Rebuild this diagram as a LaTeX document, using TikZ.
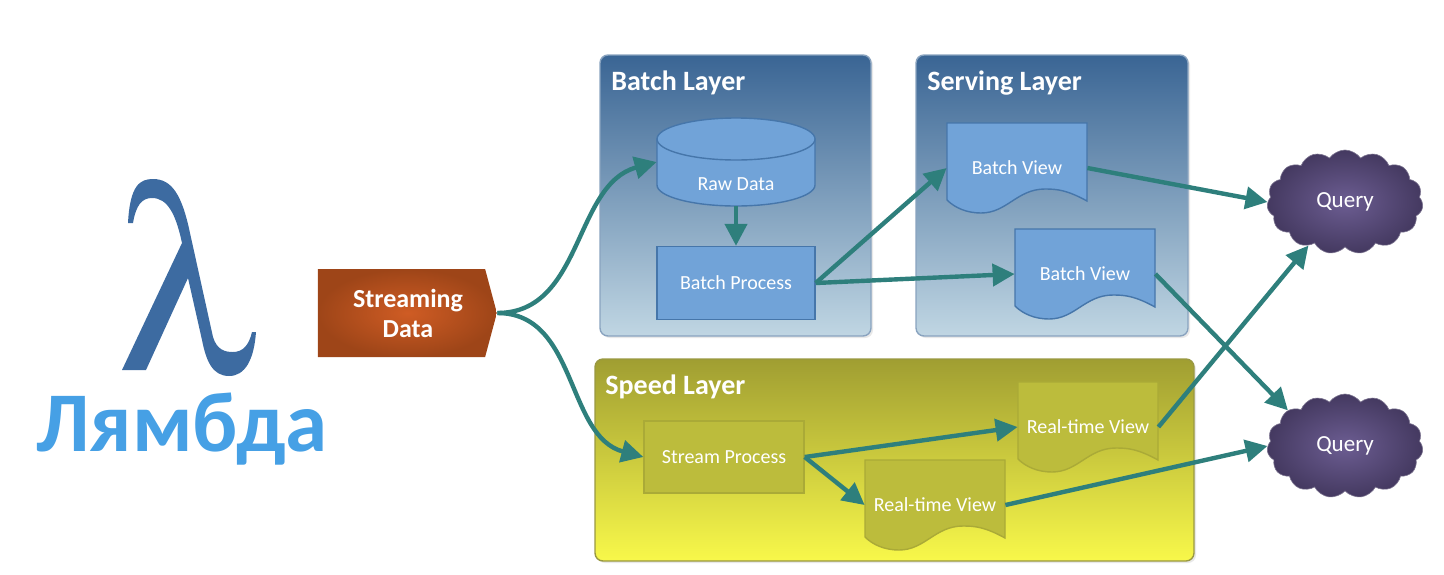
\documentclass[tikz,border=0pt]{standalone}
\usepackage{fontspec}
\setmainfont{Carlito}
\usetikzlibrary{arrows.meta,shapes.symbols,shadows}
\definecolor{lambdablue}{RGB}{61,107,161}
\definecolor{lambdalight}{RGB}{70,160,229}
\definecolor{flowteal}{RGB}{46,127,124}
\definecolor{batchtop}{RGB}{58,101,148}
\definecolor{batchbottom}{RGB}{192,214,227}
\definecolor{speedtop}{RGB}{160,158,50}
\definecolor{speedbottom}{RGB}{248,248,74}
\definecolor{boxblue}{RGB}{113,163,216}
\definecolor{boxline}{RGB}{70,118,170}
\definecolor{boxolive}{RGB}{188,188,60}
\definecolor{oliveline}{RGB}{170,170,55}
\definecolor{cloudinner}{RGB}{108,93,146}
\definecolor{cloudouter}{RGB}{68,57,96}
\definecolor{streaminner}{RGB}{207,92,36}
\definecolor{streamouter}{RGB}{158,69,24}
\tikzset{
  layerbox/.style={draw=#1, rounded corners=4pt, inner sep=0pt, line width=0.7pt,
    drop shadow={opacity=0.18, shadow xshift=1pt, shadow yshift=-1pt}},
  layertitle/.style={anchor=west, inner sep=0pt, text=white, font=\fontsize{14}{14}\selectfont\bfseries},
  boxtext/.style={text=white, font=\fontsize{10}{10}\selectfont},
  flow/.style={-{Triangle[length=11pt,width=11pt]}, flowteal, line width=2.2pt},
  querycloud/.style={cloud, cloud puffs=15, cloud puff arc=110, cloud ignores aspect,
    minimum width=78pt, minimum height=52pt, inner sep=0pt, draw=white!30!cloudouter,
    line width=0.3pt, inner color=cloudinner, outer color=cloudouter, text=white,
    font=\fontsize{11.5}{11.5}\selectfont}
}
% view sheet with wavy lower edge: name, x, y, text, fill, line
\newcommand{\viewsheet}[6]{
  \draw[fill=#5, draw=#6, line width=0.7pt, shift={(#2,#3)}] (-70,-45) -- (70,-45) -- (70,33)
    .. controls (50,22) and (40,21) .. (28,21)
    .. controls (0,21) and (-10,45) .. (-36,45)
    .. controls (-50,45) and (-62,40) .. (-70,32) -- cycle;
  \node[boxtext, minimum width=70pt, inner sep=0pt] (#1) at (#2,#3) {#4};
}
\begin{document}
\begin{tikzpicture}[x=0.5pt,y=-0.5pt]
  \useasboundingbox (0,0) rectangle (1444,574);

  % Lambda sign
  \fill[lambdablue] (128,223) .. controls (130,185) and (140,179) .. (153,179)
    .. controls (172,179) and (182,195) .. (190,233) -- (213,337)
    .. controls (217,350) and (225,352) .. (233,352)
    .. controls (243,352) and (249,345) .. (252,332) -- (256,332)
    .. controls (254,360) and (245,376) .. (229,376)
    .. controls (212,376) and (206,360) .. (202,340) -- (188,278) -- (146,370) -- (122,370) -- (182,243)
    .. controls (176,215) and (168,198) .. (152,198)
    .. controls (142,198) and (136,205) .. (133,223) -- cycle;
  \node[text=lambdalight, font=\fontsize{42.5}{42.5}\selectfont\bfseries, inner sep=0pt] (lambdaname) at (182,429) {Лямбда};

  % Streaming data
  \node[signal, signal to=east, signal pointer angle=150, minimum width=89.5pt, minimum height=44pt,
    inner sep=0pt, inner color=streaminner, outer color=streamouter] (stream) at (401.5,313) {};
  \node[align=center, inner sep=0pt, text=white, font=\fontsize{13}{15}\selectfont\bfseries] (streamtext) at (408,313) {Streaming\\Data};

  % Layers
  \node[layerbox=batchtop!60!white, top color=batchtop, bottom color=batchbottom, minimum width=135.5pt, minimum height=140.5pt] (batch) at (735.5,195.5) {};
  \node[layertitle] (batchtitle) at (611,83) {Batch Layer};
  \node[layerbox=batchtop!60!white, top color=batchtop, bottom color=batchbottom, minimum width=136pt, minimum height=140.5pt] (serving) at (1052,195.5) {};
  \node[layertitle] (servingtitle) at (927,83) {Serving Layer};
  \node[layerbox=speedtop!80!gray, top color=speedtop, bottom color=speedbottom, minimum width=299.5pt, minimum height=101pt] (speed) at (894.5,460) {};
  \node[layertitle] (speedtitle) at (605,387) {Speed Layer};

  % Batch layer
  \draw[fill=boxblue, draw=boxline, line width=0.7pt] (657,139) -- (657,185)
    arc[start angle=180, end angle=360, x radius=39.5pt, y radius=10.5pt] -- (815,139) -- cycle;
  \draw[fill=boxblue, draw=boxline, line width=0.7pt] (736,139) ellipse [x radius=39.5pt, y radius=10.5pt];
  \node[minimum width=79pt, minimum height=44pt, inner sep=0pt] (raw) at (736,162) {};
  \node[boxtext, inner sep=0pt] (rawtext) at (736,184) {Raw Data};
  \node[draw=boxline, fill=boxblue, line width=0.7pt, minimum width=79pt, minimum height=36.5pt, inner sep=0pt, boxtext] (process) at (736,283) {Batch Process};

  % Serving layer
  \viewsheet{viewa}{1017}{168}{Batch View}{boxblue}{boxline}
  \viewsheet{viewb}{1085}{274}{Batch View}{boxblue}{boxline}

  % Speed layer
  \node[draw=oliveline, fill=boxolive, line width=0.7pt, minimum width=80pt, minimum height=36pt, inner sep=0pt, boxtext] (streamproc) at (724,457) {Stream Process};
  \viewsheet{realb}{935}{505}{Real-time View}{boxolive}{oliveline}
  \viewsheet{reala}{1088}{427}{Real-time View}{boxolive}{oliveline}

  % Queries
  \node[querycloud] (querya) at (1345,202) {Query};
  \node[querycloud] (queryb) at (1345,446) {Query};

  % Arrows
  \draw[flow] (stream.east) to[out=0,in=195] (raw.west);
  \draw[flow] (stream.east) to[out=0,in=165] (streamproc.west);
  \draw[flow] (raw.south) -- (process.north);
  \draw[flow] (process.east) -- (viewa.west);
  \draw[flow] (process.east) -- (viewb.west);
  \draw[flow] (viewa.east) -- (querya.180);
  \draw[flow] (viewb.east) -- (queryb.148);
  \draw[flow] (streamproc.east) -- (reala.west);
  \draw[flow] (streamproc.east) -- (realb.west);
  \draw[flow] (reala.east) -- (querya.230);
  \draw[flow] (realb.east) -- (queryb.west);
\end{tikzpicture}
\end{document}
